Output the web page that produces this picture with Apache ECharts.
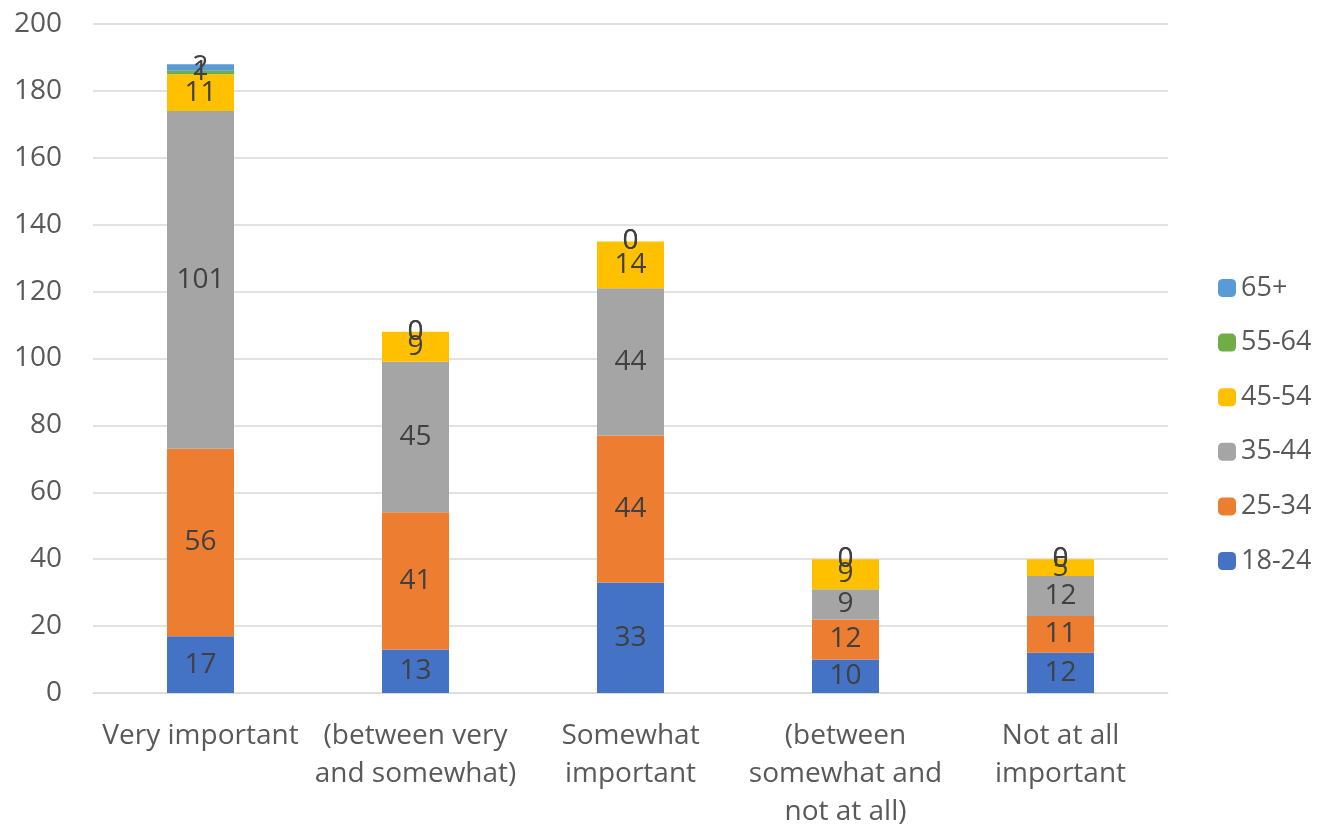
<!DOCTYPE html>
<html><head><meta charset="utf-8">
<script src="https://cdn.jsdelivr.net/npm/echarts@6/dist/echarts.min.js"></script>
<style>html,body{margin:0;padding:0;background:#fff}#c{width:1318px;height:831px}</style>
</head><body><div id="c"></div>
<script>
const categories = ['Very important', '(between very\nand somewhat)', 'Somewhat\nimportant', '(between\nsomewhat and\nnot at all)', 'Not at all\nimportant'];
const s18_24 = [17, 13, 33, 10, 12];
const s25_34 = [56, 41, 44, 12, 11];
const s35_44 = [101, 45, 44, 9, 12];
const s45_54 = [11, 9, 14, 9, 5];
const s55_64 = [1, 0, 0, 0, 0];
const s65p = [2, 0, 0, 0, 0];
const yTicks = [0, 20, 40, 60, 80, 100, 120, 140, 160, 180, 200];

const seriesDefs = [
  ['18-24', s18_24, '#4472C4'],
  ['25-34', s25_34, '#ED7D31'],
  ['35-44', s35_44, '#A5A5A5'],
  ['45-54', s45_54, '#FFC000'],
  ['55-64', s55_64, '#70AD47'],
  ['65+', s65p, '#5B9BD5']
];
const FONT = '"Open Sans", Lato, sans-serif';
const chart = echarts.init(document.getElementById('c'));
chart.setOption({
  animation: false,
  textStyle: {fontFamily: FONT},
  grid: {left: 93, right: 150, top: 24, bottom: 133},
  legend: {
    orient: 'vertical', left: 1213, top: 269, itemGap: 26.6, itemWidth: 18, itemHeight: 18,
    data: seriesDefs.map(d => d[0]).reverse(),
    textStyle: {fontSize: 27, lineHeight: 28, color: '#595959', fontFamily: FONT}
  },
  xAxis: {
    type: 'category', data: categories,
    axisTick: {show: false},
    axisLine: {lineStyle: {color: '#D9D9D9'}},
    axisLabel: {fontSize: 28, color: '#595959', lineHeight: 38, margin: 24, interval: 0, fontFamily: FONT}
  },
  yAxis: {
    type: 'value', min: yTicks[0], max: yTicks[yTicks.length - 1], interval: 20,
    axisLine: {show: false}, axisTick: {show: false},
    splitLine: {lineStyle: {color: '#D9D9D9', width: 1.5}},
    axisLabel: {fontSize: 28, color: '#595959', margin: 31, fontFamily: FONT}
  },
  series: seriesDefs.map(d => ({
    name: d[0], type: 'bar', stack: 'total', data: d[1],
    barWidth: 67,
    itemStyle: {color: d[2]},
    label: {show: true, position: 'inside', fontSize: 28, color: '#404040', fontFamily: FONT}
  }))
});
</script></body></html>
